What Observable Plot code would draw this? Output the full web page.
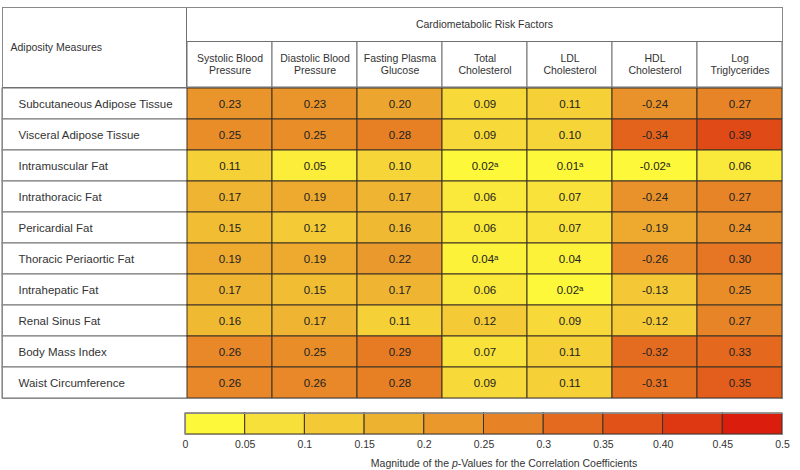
<!DOCTYPE html>
<html>
<head>
<meta charset="utf-8">
<script src="https://cdn.jsdelivr.net/npm/d3@7"></script>
<script src="https://cdn.jsdelivr.net/npm/@observablehq/plot@0.6"></script>
<style>
  html, body { margin: 0; padding: 0; background: #fff; }
  body { width: 800px; height: 470px; overflow: hidden; font-family: "Liberation Sans", Arial, sans-serif; }
  #caption { width: 800px; box-sizing: border-box; padding-left: 208px; text-align: center; font-size: 10.5px; line-height: 14px; color: #333; }
  svg { display: block; }
</style>
</head>
<body>
<div id="table"></div>
<div id="bar"></div>
<div id="caption">Magnitude of the <i>p</i>-Values for the Correlation Coefficients</div>
<script>
// ---- data ----
const rows = ["Subcutaneous Adipose Tissue", "Visceral Adipose Tissue", "Intramuscular Fat", "Intrathoracic Fat",
  "Pericardial Fat", "Thoracic Periaortic Fat", "Intrahepatic Fat", "Renal Sinus Fat", "Body Mass Index", "Waist Circumference"];
const columns = ["Systolic Blood\nPressure", "Diastolic Blood\nPressure", "Fasting Plasma\nGlucose", "Total\nCholesterol",
  "LDL\nCholesterol", "HDL\nCholesterol", "Log\nTriglycerides"];
const systolic   = [0.23, 0.25, 0.11, 0.17, 0.15, 0.19, 0.17, 0.16, 0.26, 0.26];
const diastolic  = [0.23, 0.25, 0.05, 0.19, 0.12, 0.19, 0.15, 0.17, 0.25, 0.26];
const glucose    = [0.20, 0.28, 0.10, 0.17, 0.16, 0.22, 0.17, 0.11, 0.29, 0.28];
const totalChol  = [0.09, 0.09, 0.02, 0.06, 0.06, 0.04, 0.06, 0.12, 0.07, 0.09];
const ldlChol    = [0.11, 0.10, 0.01, 0.07, 0.07, 0.04, 0.02, 0.09, 0.11, 0.11];
const hdlChol    = [-0.24, -0.34, -0.02, -0.24, -0.19, -0.26, -0.13, -0.12, -0.32, -0.31];
const logTrig    = [0.27, 0.39, 0.06, 0.27, 0.24, 0.30, 0.25, 0.27, 0.33, 0.35];
const seriesValues = [systolic, diastolic, glucose, totalChol, ldlChol, hdlChol, logTrig];
// cells marked with superscript "a" : [row index, column index]
const flagged = [[2, 3], [2, 4], [2, 5], [5, 3], [6, 4]];
const headerTitle = "Cardiometabolic Risk Factors";
const rowTitle = "Adiposity Measures";

// colour scale (magnitude of value)
const colorStops  = [0.025, 0.075, 0.125, 0.175, 0.225, 0.275, 0.325, 0.375, 0.425, 0.475];
const colorRange  = ["#fdf93a", "#f8e03a", "#f3c935", "#eeb231", "#ea972b", "#e78226", "#e46a1f", "#e15219", "#de3812", "#da1d0c"];
const legendTicks = [0, 0.05, 0.1, 0.15, 0.2, 0.25, 0.3, 0.35, 0.4, 0.45, 0.5];
const legendTickLabels = ["0", "0.05", "0.1", "0.15", "0.2", "0.25", "0.3", "0.35", "0.40", "0.45", "0.5"];

// ---- build table ----
const cells = [];
columns.forEach((c, j) => rows.forEach((r, i) => {
  const flag = flagged.some(([fi, fj]) => fi === i && fj === j);
  cells.push({row: r, col: c, value: seriesValues[j][i], flag});
}));

const colorScale = {type: "linear", domain: colorStops, range: colorRange, clamp: true};
const font = "'Liberation Sans', Arial, sans-serif";
const W = 800, H = 400, mL = 186, mR = 18, mT = 87, mB = 2;
const frameH = H - mT - mB, frameW = W - mL - mR;
const gridStroke = "#707070";
const cellStroke = "#3d3225";

const table = Plot.plot({
  width: W, height: H,
  marginLeft: mL, marginRight: mR, marginTop: mT, marginBottom: mB,
  x: {type: "band", domain: columns, padding: 0, axis: null},
  y: {type: "band", domain: rows, padding: 0, axis: null},
  color: colorScale,
  style: {fontFamily: font, background: "white"},
  marks: [
    // row label boxes extending into the left column
    Plot.cell(rows, {y: d => d, fill: "white", stroke: gridStroke, insetLeft: -(mL - 2)}),
    // heat cells
    Plot.cell(cells, {x: "col", y: "row", fill: d => Math.abs(d.value), stroke: cellStroke, strokeWidth: 1}),
    Plot.text(cells, {x: "col", y: "row", text: d => d.value.toFixed(2) + (d.flag ? "\u1D43" : ""),
      fontSize: 11.5, fill: "#222"}),
    // row labels
    Plot.text(rows, {y: d => d, text: d => d, frameAnchor: "left", dx: -(mL - 18), textAnchor: "start",
      fontSize: 11.5, fill: "#333"}),
    // column header boxes
    Plot.cell(columns, {x: d => d, fill: "white", stroke: gridStroke, insetTop: -46, insetBottom: frameH}),
    Plot.text(columns, {x: d => d, text: d => d, frameAnchor: "top", lineAnchor: "middle", dy: -23, fontSize: 10.5,
      lineHeight: 1.15, fill: "#333"}),
    // top header box
    Plot.frame({fill: "white", stroke: gridStroke, insetTop: -(mT - 7), insetBottom: frameH + 46}),
    Plot.text([headerTitle], {text: d => d, frameAnchor: "top", lineAnchor: "middle", dy: -(mT - 24),
      fontSize: 10.5, fill: "#333"}),
    // adiposity header box
    Plot.frame({fill: "white", stroke: gridStroke, insetLeft: -(mL - 2), insetRight: frameW,
      insetTop: -(mT - 7), insetBottom: frameH}),
    Plot.text([rowTitle], {text: d => d, frameAnchor: "top-left", lineAnchor: "middle", dx: -(mL - 10), dy: -(mT - 47),
      textAnchor: "start", fontSize: 10.5, fill: "#333"}),
    // outer border
    Plot.frame({stroke: "#888", insetLeft: -(mL - 2), insetTop: -(mT - 7)})
  ]
});
document.getElementById("table").append(table);

// ---- colour bar ----
const segments = legendTicks.slice(0, -1).map((lo, i) => ({lo, hi: legendTicks[i + 1]}));
const bar = Plot.plot({
  width: W, height: 56,
  marginLeft: 185, marginRight: mR, marginTop: 13, marginBottom: 22,
  x: {domain: [0, 0.5], ticks: legendTicks, tickSize: 0, tickPadding: 6, label: null,
      tickFormat: d => legendTickLabels[Math.round(d / 0.05)]},
  color: colorScale,
  style: {fontFamily: font, fontSize: "10.5px", color: "#333", background: "white"},
  marks: [
    Plot.rect(segments, {x1: "lo", x2: "hi", fill: d => (d.lo + d.hi) / 2, stroke: cellStroke, strokeWidth: 1}),
    Plot.frame({stroke: "#888"})
  ]
});
document.getElementById("bar").append(bar);
</script>
</body>
</html>
